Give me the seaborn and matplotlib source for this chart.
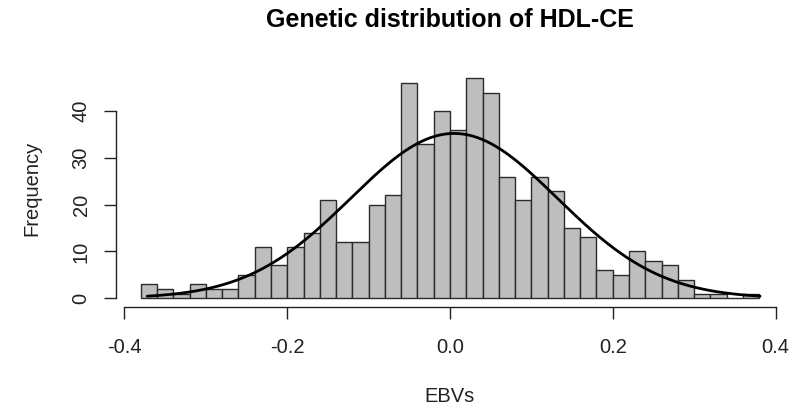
import numpy as np
import pandas as pd
import seaborn as sns
import matplotlib
matplotlib.use("Agg")
import matplotlib.pyplot as plt

# ---- data ----
bin_start = -0.38
bin_width = 0.02
counts = [3, 2, 1, 3, 2, 2, 5, 11, 7, 11, 14, 21, 12, 12, 20, 22, 46, 33, 40,
          36, 47, 44, 26, 21, 26, 23, 15, 13, 6, 5, 10, 8, 7, 4, 1, 1, 0, 1]
x_ticks = [-0.4, -0.2, 0.0, 0.2, 0.4]
x_tick_labels = ["-0.4", "-0.2", "0.0", "0.2", "0.4"]
y_ticks = [0, 10, 20, 30, 40]
curve_mean = 0.005
curve_sd = 0.127
curve_range = (-0.372, 0.381)

edges = [round(bin_start + bin_width * i, 4) for i in range(len(counts) + 1)]
centers = [(edges[i] + edges[i + 1]) / 2 for i in range(len(counts))]
df = pd.DataFrame({"EBVs": centers, "count": counts})

sns.set_style("ticks")
plt.rcParams["font.family"] = ["Liberation Sans", "DejaVu Sans"]

fig = plt.figure(figsize=(8.03, 4.08), dpi=100)
ax = fig.add_axes([116 / 803, 1 - 307 / 408, (784 - 116) / 803, (307 - 69.7) / 408])

sns.histplot(data=df, x="EBVs", weights="count", bins=edges, color="#BEBEBE",
             edgecolor="#2b2b2b", linewidth=1.0, alpha=1.0, ax=ax)

n_total = sum(counts)
xs = np.linspace(curve_range[0], curve_range[1], 400)
ys = n_total * bin_width * np.exp(-0.5 * ((xs - curve_mean) / curve_sd) ** 2) / (curve_sd * np.sqrt(2 * np.pi))
sns.lineplot(x=xs, y=ys, color="black", linewidth=2.0, ax=ax)

ax.set_xlim(-0.4104, 0.4104)
ax.set_ylim(-1.88, 48.88)
ax.set_xticks(x_ticks)
ax.set_xticklabels(x_tick_labels)
ax.set_yticks(y_ticks)
ax.set_yticklabels([str(v) for v in y_ticks], rotation=90, va="center")

for s in ["top", "right"]:
    ax.spines[s].set_visible(False)
ax.spines["bottom"].set_bounds(-0.4, 0.4)
ax.spines["left"].set_bounds(0, 40)
for s in ["bottom", "left"]:
    ax.spines[s].set_color("#222222")
    ax.spines[s].set_linewidth(1.0)

ax.tick_params(axis="both", length=8.3, width=1.0, color="#222222",
               labelsize=14.5, labelcolor="#222222")
ax.tick_params(axis="x", pad=14)
ax.tick_params(axis="y", pad=10)

ax.set_xlabel("EBVs", fontsize=14.5, color="#222222")
ax.xaxis.set_label_coords(0.5, -(397 - 307) / 237.3)
ax.xaxis.label.set_va("center")
ax.set_ylabel("Frequency", fontsize=14.5, color="#222222")
ax.yaxis.set_label_coords((32 - 116) / 668, 0.5)
ax.yaxis.label.set_va("center")

fig.text(450 / 803, 1 - 20 / 408, "Genetic distribution of HDL-CE",
         ha="center", va="center", fontsize=18, fontweight="bold", color="black")

fig.savefig("out.png", dpi=100)
